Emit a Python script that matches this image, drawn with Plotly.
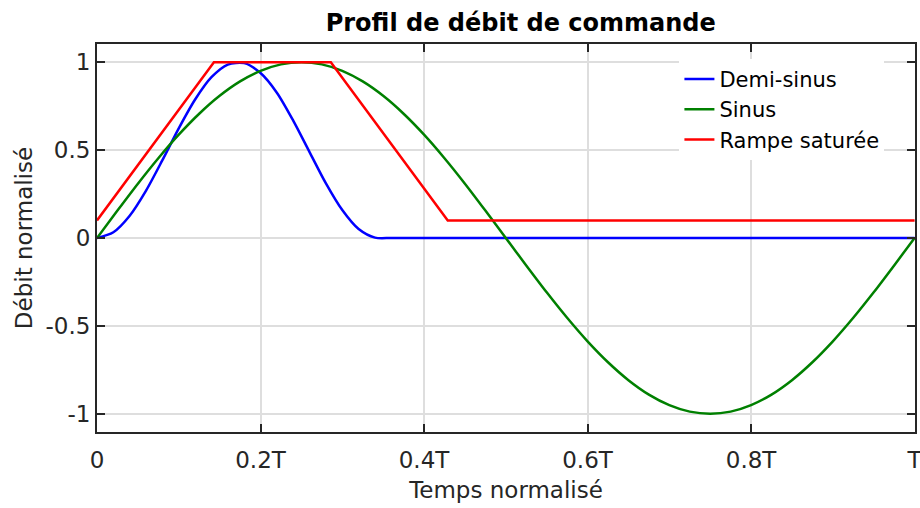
import plotly.graph_objects as go

# --- Data -------------------------------------------------------------
# Demi-sinus: single bump then zero flow
t_demi = [0.00, 0.02, 0.04, 0.06, 0.08, 0.10, 0.12, 0.14, 0.16, 0.18,
          0.20, 0.22, 0.24, 0.26, 0.28, 0.30, 0.32, 0.34, 0.36, 0.40, 1.00]
q_demi = [0.000, 0.033, 0.127, 0.270, 0.443, 0.624, 0.788, 0.915, 0.987, 0.995,
          0.939, 0.827, 0.668, 0.489, 0.311, 0.159, 0.051, 0.002, 0.000, 0.000, 0.000]

# Sinus: one full period over T
t_sin = [0.000, 0.025, 0.050, 0.075, 0.100, 0.125, 0.150, 0.175, 0.200, 0.225,
         0.250, 0.275, 0.300, 0.325, 0.350, 0.375, 0.400, 0.425, 0.450, 0.475,
         0.500, 0.525, 0.550, 0.575, 0.600, 0.625, 0.650, 0.675, 0.700, 0.725,
         0.750, 0.775, 0.800, 0.825, 0.850, 0.875, 0.900, 0.925, 0.950, 0.975, 1.000]
q_sin = [0.000, 0.156, 0.309, 0.454, 0.588, 0.707, 0.809, 0.891, 0.951, 0.988,
         1.000, 0.988, 0.951, 0.891, 0.809, 0.707, 0.588, 0.454, 0.309, 0.156,
         0.000, -0.156, -0.309, -0.454, -0.588, -0.707, -0.809, -0.891, -0.951, -0.988,
         -1.000, -0.988, -0.951, -0.891, -0.809, -0.707, -0.588, -0.454, -0.309, -0.156, 0.000]

# Rampe saturée: ramp up, plateau, ramp down, residual flow
t_ramp = [0.000, 0.143, 0.286, 0.429, 1.000]
q_ramp = [0.10, 1.00, 1.00, 0.10, 0.10]

x_tick_vals = [0, 0.2, 0.4, 0.6, 0.8, 1.0]
x_tick_text = ["0", "0.2T", "0.4T", "0.6T", "0.8T", "T"]
y_tick_vals = [-1, -0.5, 0, 0.5, 1]
y_tick_text = ["-1", "-0.5", "0", "0.5", "1"]

# --- Figure -----------------------------------------------------------
FONT = "DejaVu Sans"
AX = "#262626"
GRID = "#dedede"

fig = go.Figure()
fig.add_trace(go.Scatter(x=t_demi, y=q_demi, mode="lines", name="Demi-sinus",
                         line=dict(color="#0000ff", width=2.5, shape="spline", smoothing=0.8)))
fig.add_trace(go.Scatter(x=t_sin, y=q_sin, mode="lines", name="Sinus",
                         line=dict(color="#008000", width=2.5, shape="spline", smoothing=0.8)))
fig.add_trace(go.Scatter(x=t_ramp, y=q_ramp, mode="lines", name="Rampe saturée",
                         line=dict(color="#ff0000", width=2.5)))

axis_common = dict(
    showline=True, linecolor=AX, linewidth=2, mirror="ticks",
    ticks="inside", ticklen=8, tickwidth=2, tickcolor=AX,
    showgrid=True, gridcolor=GRID, gridwidth=1.5,
    zeroline=False, ticklabeloverflow="allow", automargin=False,
    tickfont=dict(family=FONT, size=23, color=AX),
)

fig.update_xaxes(range=[0, 1.0005], tickmode="array", tickvals=x_tick_vals, ticktext=x_tick_text,
                 ticklabelstandoff=6,
                 title=dict(text="Temps normalisé", font=dict(family=FONT, size=23, color=AX),
                            standoff=10),
                 **axis_common)
fig.update_yaxes(range=[-1.104, 1.104], tickmode="array", tickvals=y_tick_vals, ticktext=y_tick_text,
                 title=dict(text="Débit normalisé", font=dict(family=FONT, size=23, color=AX),
                            standoff=6),
                 **axis_common)

fig.update_layout(
    width=920, height=508,
    margin=dict(l=97, r=5, t=44, b=76),
    paper_bgcolor="white", plot_bgcolor="white",
    title=dict(text="<b>Profil de débit de commande</b>",
               font=dict(family=FONT, size=24, color="black"),
               x=0.518, xref="paper", xanchor="center",
               y=1 - 23 / 508, yref="container", yanchor="middle"),
    legend=dict(x=0.712, y=0.962, xanchor="left", yanchor="top",
                bgcolor="white", borderwidth=0,
                font=dict(family=FONT, size=21, color="black")),
    showlegend=True,
)

fig.write_html("out.html")
